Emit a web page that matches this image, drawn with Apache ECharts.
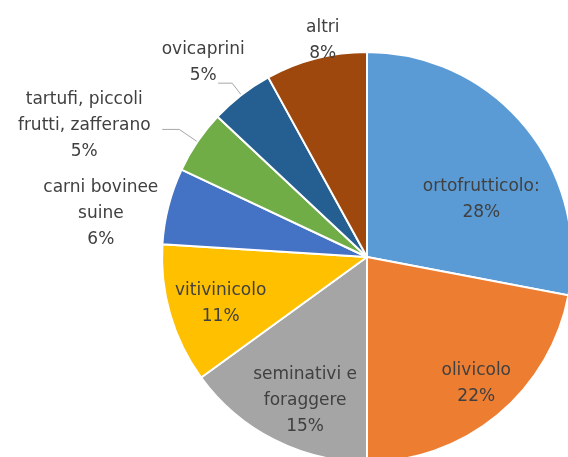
<!DOCTYPE html>
<html>
<head>
<meta charset="utf-8">
<script src="https://cdn.jsdelivr.net/npm/echarts@6/dist/echarts.min.js"></script>
<style>
html,body{margin:0;padding:0;background:#fff;}
#chart{width:568px;height:457px;}
</style>
</head>
<body>
<div id="chart"></div>
<script>
// ---- data ----
const categories = ['ortofrutticolo:', 'olivicolo', 'seminativi e foraggere', 'vitivinicolo', 'carni bovinee suine', 'tartufi, piccoli frutti, zafferano', 'ovicaprini', 'altri'];
const labelNames = ['ortofrutticolo:', 'olivicolo', 'seminativi e\nforaggere', 'vitivinicolo', 'carni bovinee\nsuine', 'tartufi, piccoli\nfrutti, zafferano', 'ovicaprini', 'altri'];
const values = [28, 22, 15, 11, 6, 5, 5, 8];

// ---- styles / layout ----
const colors = ['#5B9BD5', '#ED7D31', '#A5A5A5', '#FFC000', '#4472C4', '#70AD47', '#255E91', '#9E480E'];
const labelPlacement = ['inside', 'inside', 'inside', 'inside', 'inside', 'outside', 'outside', 'inside'];
const lineLen = [null, null, null, null, null, [22, 17], [15, 14], null];
// label shift relative to library anchor (inside: label centre; outside: leader line end)
const labelShift = [[33, 10], [42, 45], [-14, 50], [-45, 17], [-164, -17], [-78, -4], [-15, -21], [-18, -114]];

const chart = echarts.init(document.getElementById('chart'), null, {renderer: 'canvas'});

const seriesData = categories.map((c, i) => {
  const item = {
    name: c,
    value: values[i],
    itemStyle: {color: colors[i]},
    label: {position: labelPlacement[i]}
  };
  if (lineLen[i]) {
    item.labelLine = {show: true, length: lineLen[i][0], length2: lineLen[i][1]};
  } else {
    item.labelLine = {show: false};
  }
  return item;
});

chart.setOption({
  animation: false,
  backgroundColor: '#ffffff',
  series: [{
    type: 'pie',
    center: [367, 257],
    radius: 205,
    startAngle: 90,
    clockwise: true,
    avoidLabelOverlap: false,
    itemStyle: {borderColor: '#ffffff', borderWidth: 2},
    label: {
      show: true,
      fontFamily: 'DejaVu Sans',
      fontSize: 17,
      lineHeight: 26,
      color: '#404040',
      formatter: p => labelNames[p.dataIndex] + '\n' + p.value + '%'
    },
    labelLine: {
      lineStyle: {color: '#A6A6A6', width: 1},
      smooth: false
    },
    labelLayout: function (params) {
      const i = params.dataIndex;
      const s = labelShift[i];
      const r = params.labelRect;
      let ax, ay;
      if (labelPlacement[i] === 'outside' && params.labelLinePoints) {
        const pts = params.labelLinePoints;
        ax = pts[pts.length - 1][0];
        ay = pts[pts.length - 1][1];
        return {x: ax + s[0], y: ay + s[1], align: 'center', verticalAlign: 'middle', labelLinePoints: pts};
      }
      ax = r.x + r.width / 2;
      ay = r.y + r.height / 2;
      return {x: ax + s[0], y: ay + s[1], align: 'center', verticalAlign: 'middle'};
    },
    data: seriesData
  }]
});
</script>
</body>
</html>
